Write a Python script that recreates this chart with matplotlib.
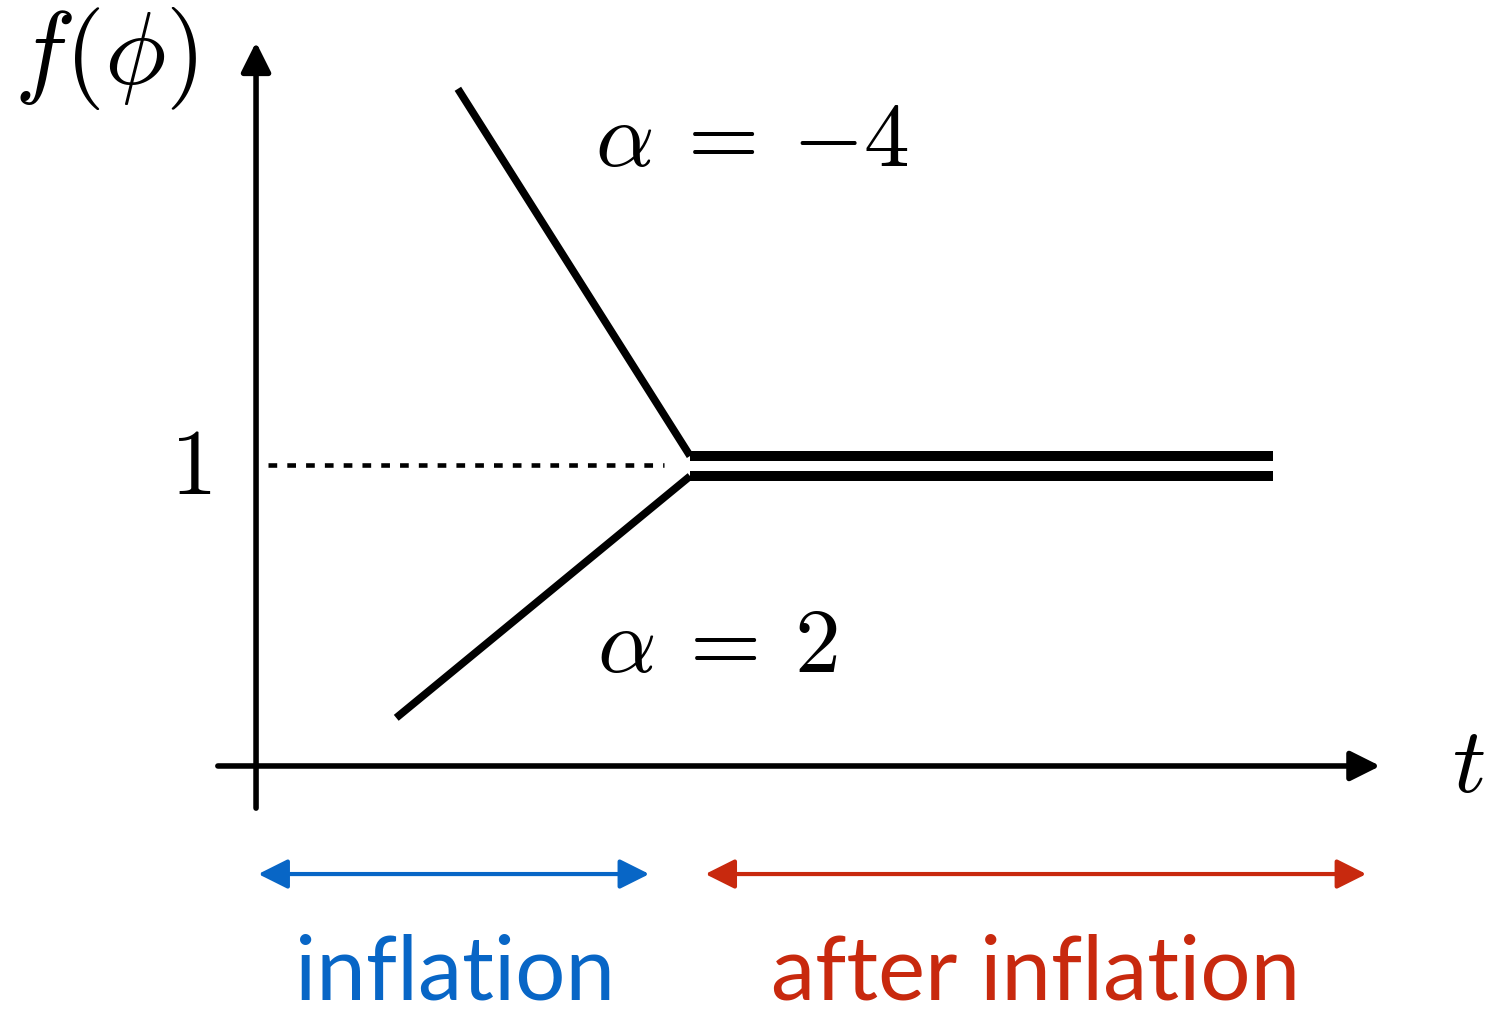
import matplotlib.pyplot as plt
import numpy as np

plt.rcParams['mathtext.fontset'] = 'cm'

# data (t in units of end of inflation, f normalised to 1 after inflation)
t_end = 1.0
t_final = 2.343
neg_t = [0.465, t_end, t_final]
neg_f = [2.25, 1.030, 1.030]      # alpha = -4
pos_t = [0.323, t_end, t_final]
pos_f = [0.16, 0.963, 0.963]      # alpha = 2

blue = '#0866C6'
red = '#C8290E'

fig = plt.figure(figsize=(14.87, 10.17), dpi=100)
ax = fig.add_axes([0, 0, 1, 1])
ax.set_xlim(-0.5899, 2.836)
ax.set_ylim(-0.834, 2.545)
ax.axis('off')

# axes with arrows
ax.annotate('', xy=(2.59, 0), xytext=(-0.088, 0),
            arrowprops=dict(arrowstyle='-|>', color='black', lw=4, mutation_scale=45,
                            shrinkA=0, shrinkB=0))
ax.annotate('', xy=(0, 2.405), xytext=(0, -0.14),
            arrowprops=dict(arrowstyle='-|>', color='black', lw=4, mutation_scale=45,
                            shrinkA=0, shrinkB=0))

# the two curves
ax.plot(neg_t[:2], neg_f[:2], color='black', lw=5.5, solid_capstyle='butt')
ax.plot(pos_t[:2], pos_f[:2], color='black', lw=5.5, solid_capstyle='butt')
ax.plot(neg_t[1:], neg_f[1:], color='black', lw=7.2, solid_capstyle='butt')
ax.plot(pos_t[1:], pos_f[1:], color='black', lw=7.2, solid_capstyle='butt')

# f = 1 reference
ax.plot([0.028, 0.94], [1, 1], color='black', lw=3.3, ls=(0, (1.9, 2.2)),
        dash_capstyle='butt')

# labels
ax.text(-0.136, 2.35, r'$f(\phi)$', fontsize=74, ha='right', va='center')
ax.text(-0.152, 0.99, r'$1$', fontsize=67, ha='center', va='center')
ax.text(2.793, 0.0, r'$t$', fontsize=67, ha='center', va='center')
ax.text(0.782, 2.08, r'$\alpha\:=\:{-}4$', fontsize=66, ha='left', va='center')
ax.text(0.785, 0.40, r'$\alpha\:=\:2$', fontsize=66, ha='left', va='center')

# phase arrows
ax.annotate('', xy=(0.005, -0.359), xytext=(0.906, -0.359),
            arrowprops=dict(arrowstyle='<|-|>', color=blue, lw=3, mutation_scale=45,
                            shrinkA=0, shrinkB=0))
ax.annotate('', xy=(1.035, -0.359), xytext=(2.558, -0.359),
            arrowprops=dict(arrowstyle='<|-|>', color=red, lw=3, mutation_scale=45,
                            shrinkA=0, shrinkB=0))
ax.text(0.458, -0.775, 'inflation', color=blue, fontsize=64, family='Lato',
        ha='center', va='baseline')
ax.text(1.795, -0.775, 'after inflation', color=red, fontsize=64, family='Lato',
        ha='center', va='baseline')

fig.savefig('out.png', dpi=100)
